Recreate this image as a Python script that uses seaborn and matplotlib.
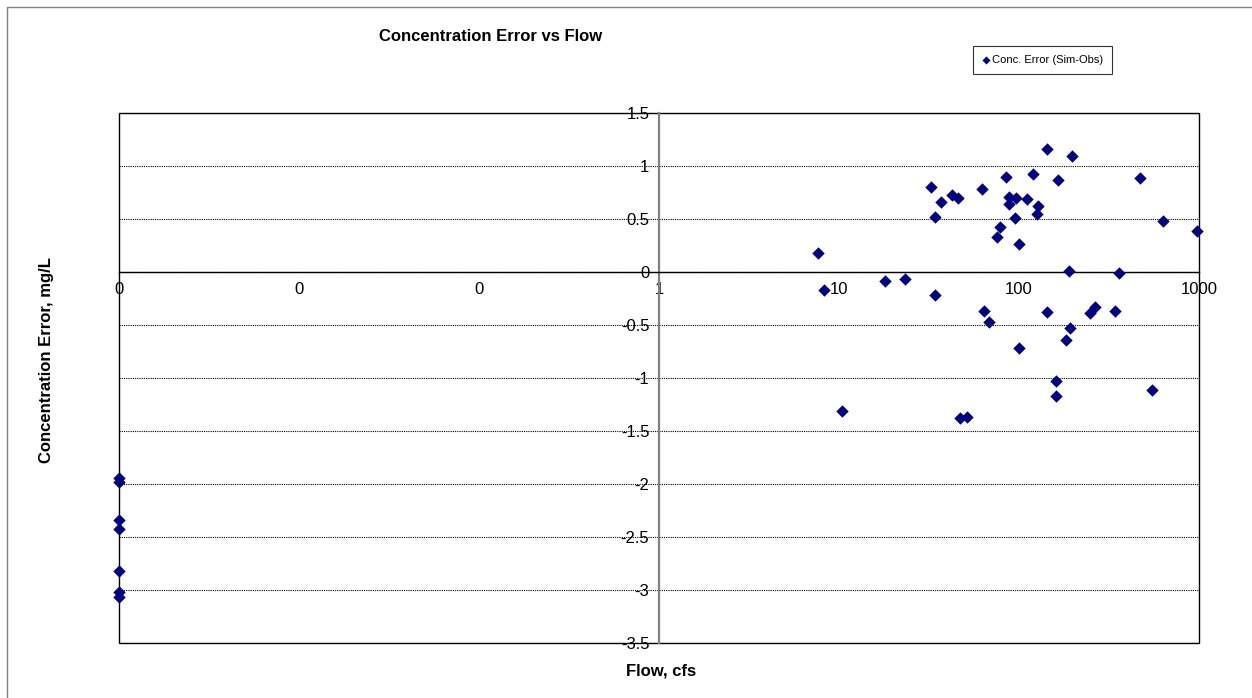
import pandas as pd
import matplotlib.pyplot as plt
import seaborn as sns
from matplotlib.patches import Rectangle

sns.set_style('white')
plt.rcParams['font.family'] = ['Liberation Sans', 'DejaVu Sans']
plt.rcParams['text.color'] = 'black'

# Flow (cfs) and concentration error (mg/L)
# zero-flow samples sit on the left edge of the log axis (0.001)
flow_zero = [0.001, 0.001, 0.001, 0.001, 0.001, 0.001, 0.001]
err_zero = [-1.94, -1.98, -2.34, -2.42, -2.82, -3.02, -3.07]

flow = [7.67, 8.26, 10.35, 18.0, 23.2, 32.3, 34.1, 34.1, 36.9, 42.6,
        46.0, 47.0, 51.6, 62.1, 63.9, 68.1, 75.7, 78.4, 84.4, 87.7,
        87.7, 96.2, 95.3, 100.0, 99.6, 110.8, 119.2, 128.0, 125.4, 143.1,
        142.7, 164.7, 160.6, 161.4, 197.8, 190.2, 192.0, 182.4, 247.9, 263.4,
        340.5, 360.8, 468.7, 548.0, 631.0, 975.0]
err = [0.18, -0.17, -1.31, -0.085, -0.07, 0.80, 0.52, -0.22, 0.66, 0.73,
       0.70, -1.38, -1.37, 0.78, -0.37, -0.47, 0.33, 0.42, 0.90, 0.71,
       0.64, 0.70, 0.51, 0.26, -0.72, 0.69, 0.92, 0.62, 0.55, 1.16,
       -0.38, 0.87, -1.03, -1.17, 1.09, 0.01, -0.53, -0.64, -0.39, -0.33,
       -0.37, -0.01, 0.89, -1.11, 0.48, 0.39]

x_ticks = [0.001, 0.01, 0.1, 1, 10, 100, 1000]
x_ticklabels = ['0', '0', '0', '1', '10', '100', '1000']
y_ticks = [1.5, 1, 0.5, 0, -0.5, -1, -1.5, -2, -2.5, -3, -3.5]

df = pd.DataFrame({'flow': flow_zero + flow, 'error': err_zero + err})

fig = plt.figure(figsize=(12.52, 6.98), dpi=100)
ax = fig.add_axes([0.0950, 0.0788, 0.8627, 0.7593])

sns.scatterplot(data=df, x='flow', y='error', marker='D', color='#000080',
                s=40, linewidth=0, label='Conc. Error (Sim-Obs)',
                clip_on=False, zorder=5, ax=ax)

ax.set_xscale('log')
ax.set_xlim(0.001, 1000)
ax.set_ylim(-3.5, 1.5)
ax.set_xticks(x_ticks)
ax.set_xticklabels(x_ticklabels)
ax.minorticks_off()
ax.set_yticks(y_ticks)
ax.set_yticklabels([f'{v:g}' for v in y_ticks])

# axes cross at flow = 1 and error = 0, like the Excel chart
ax.spines['left'].set_position(('data', 1))
ax.spines['bottom'].set_position(('data', 0))
ax.spines['left'].set_color('#808080')
ax.spines['left'].set_linewidth(1.6)
ax.spines['bottom'].set_color('black')
ax.spines['bottom'].set_linewidth(1)
ax.spines['top'].set_visible(False)
ax.spines['right'].set_visible(False)
ax.tick_params(axis='both', direction='out', length=5, width=1,
               labelsize=12, colors='black', pad=2)
ax.tick_params(axis='y', color='#808080')

ax.grid(False)
for v in y_ticks:
    ax.axhline(v, color='black', linewidth=0.8, linestyle=(0, (1, 1)), zorder=0)
ax.add_patch(Rectangle((0, 0), 1, 1, transform=ax.transAxes, fill=False,
                       edgecolor='black', linewidth=1, zorder=1, clip_on=False))

ax.set_xlabel('')
ax.set_ylabel('')
fig.text(0.392, 0.948, 'Concentration Error vs Flow', ha='center', va='center',
         fontsize=12, fontweight='bold')
fig.text(0.0375, 0.484, 'Concentration Error, mg/L', ha='center', va='center',
         rotation=90, fontsize=12, fontweight='bold')
fig.text(0.528, 0.039, 'Flow, cfs', ha='center', va='center',
         fontsize=12, fontweight='bold')

handles, labels = ax.get_legend_handles_labels()
ax.get_legend().remove()
leg = fig.legend(handles, labels, loc='center', bbox_to_anchor=(0.8325, 0.914),
                 fontsize=8, frameon=True, fancybox=False, shadow=False,
                 handletextpad=0.1, handlelength=0.8, borderpad=0.8,
                 markerscale=0.65)
leg.get_frame().set_edgecolor('black')
leg.get_frame().set_linewidth(0.8)

# outer chart-area border
fig.add_artist(Rectangle((7 / 1252, -0.01), 1.0, 1 - 7 / 698 + 0.01,
                         transform=fig.transFigure, fill=False,
                         edgecolor='#808080', linewidth=1))

fig.savefig('out.png', dpi=100)
